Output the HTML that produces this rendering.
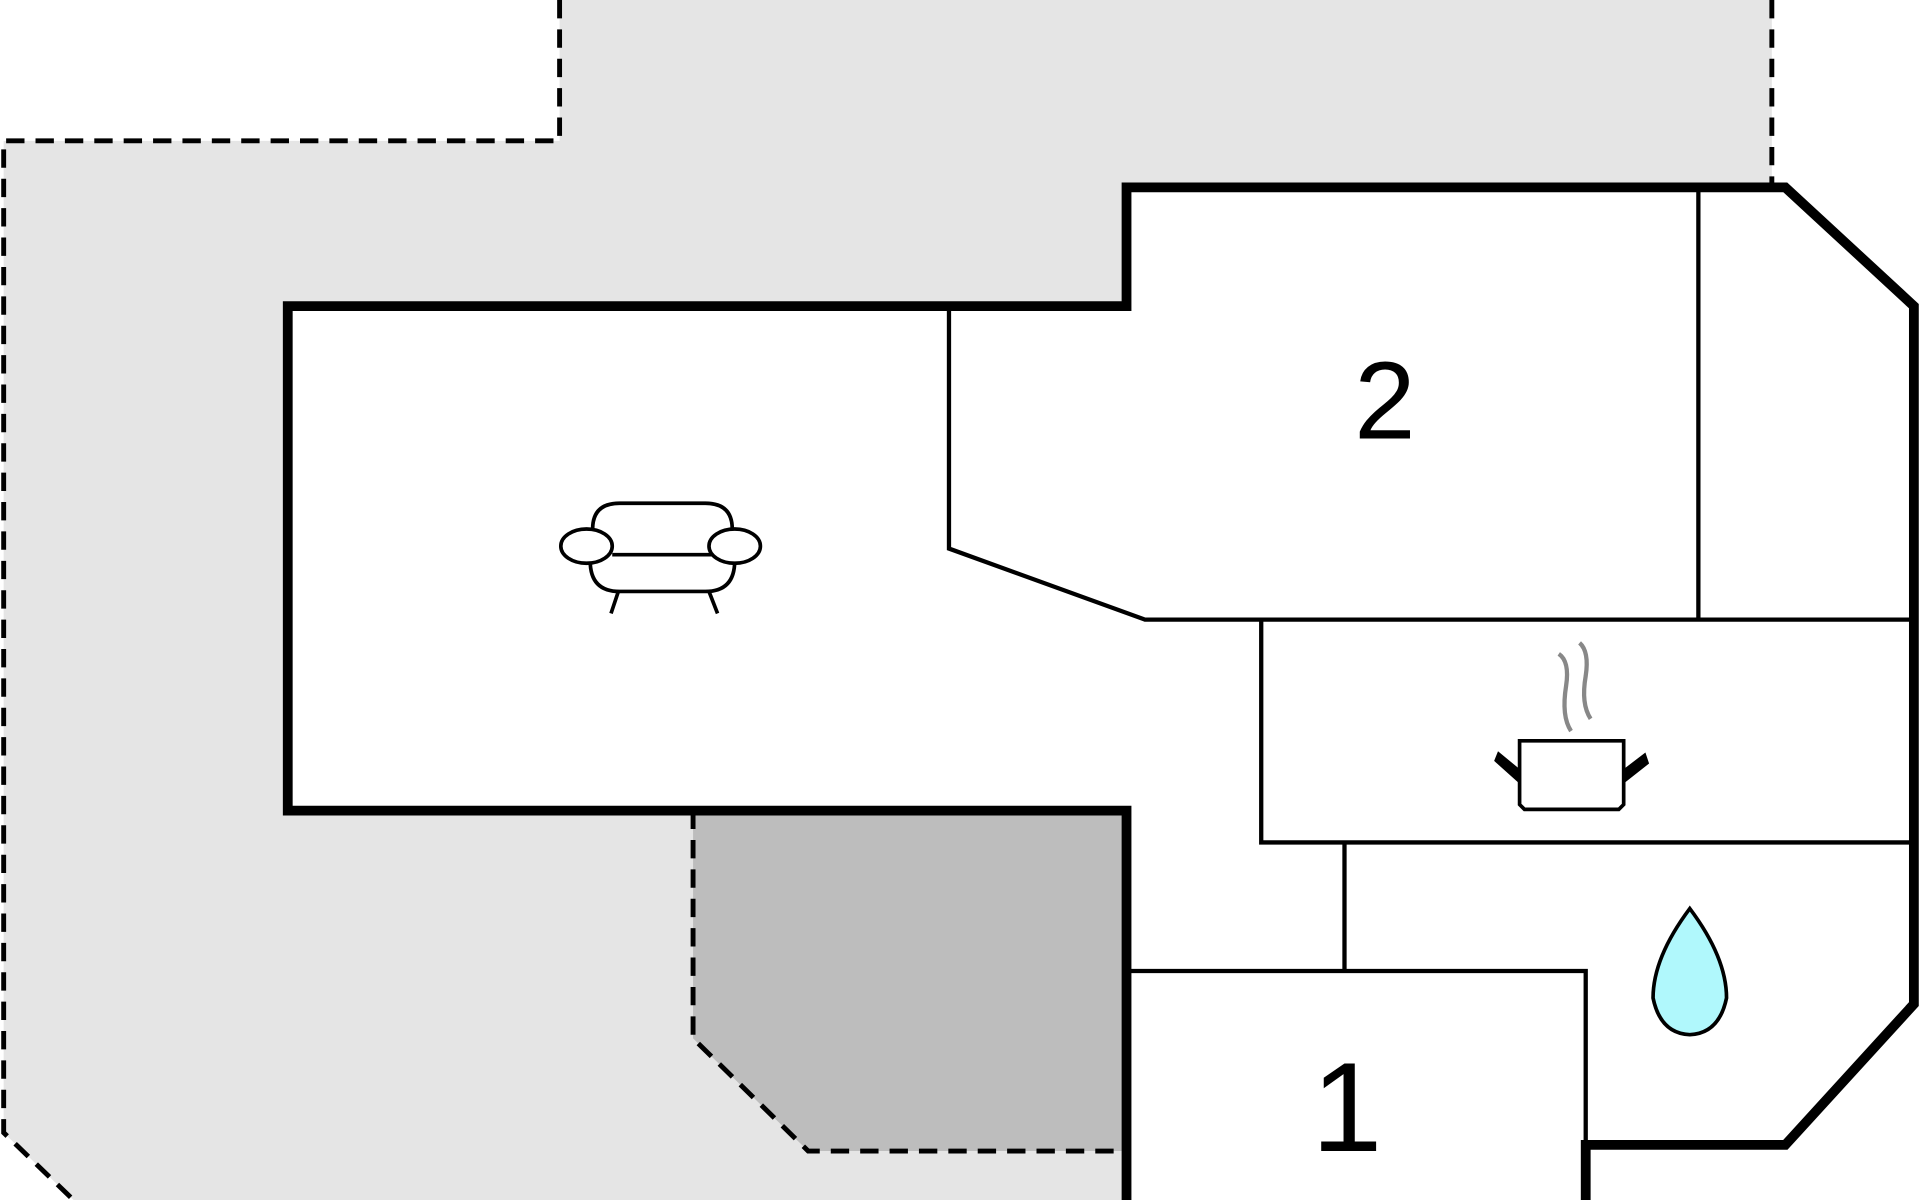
<!DOCTYPE html>
<html><head><meta charset="utf-8"><style>html,body{margin:0;padding:0;background:#fff;}svg{display:block;}</style></head>
<body>
<svg width="1920" height="1200" viewBox="0 0 1568 980" xmlns="http://www.w3.org/2000/svg">
<polygon points="3,115 457,115 457,0 1447,0 1447,153 920,153 920,980 60,980 3,925" fill="#e5e5e5"/>
<polygon points="566,662 920,662 920,940 660,940 566,848" fill="#bdbdbd"/>
<g fill="none" stroke="#000" stroke-width="4" stroke-dasharray="15,9">
<polyline points="457,0 457,115 3,115 3,925 60,980"/>
<line x1="1447" y1="0" x2="1447" y2="153"/>
<polyline points="566,662 566,848 660,940 920,940"/>
</g>
<polygon points="235,250 920,250 920,153 1458,153 1563,250 1563,820 1458,935 1295,935 1295,980 920,980 920,662 235,662" fill="#fff"/>
<g fill="none" stroke="#000" stroke-width="3.5">
<polyline points="775,250 775,448 935,506 1563,506"/>
<line x1="1387" y1="153" x2="1387" y2="506"/>
<polyline points="1030,506 1030,688 1563,688"/>
<line x1="1098" y1="688" x2="1098" y2="793"/>
<polyline points="920,793 1295,793 1295,935"/>
</g>
<g fill="none" stroke="#000" stroke-width="8">
<polyline points="920,980 920,662 235,662 235,250 920,250 920,153 1458,153 1563,250 1563,820 1458,935 1295,935 1295,980"/>
</g>
<text x="1131" y="358" font-family="Liberation Sans, sans-serif" font-size="72" text-anchor="middle" transform="translate(1131,358) scale(1.25,1.25) translate(-1131,-358)">2</text>
<text x="1100" y="940" font-family="Liberation Sans, sans-serif" font-size="104" text-anchor="middle">1</text>
<g fill="#fff" stroke="#000" stroke-width="3">
<path d="M484,432 Q484,411 506,411 L576,411 Q598,411 598,432"/>
<path d="M482,458 Q482,483 506,483 L576,483 Q600,483 600,458"/>
<line x1="500" y1="453" x2="582" y2="453"/>
<line x1="505" y1="483" x2="499" y2="501"/>
<line x1="579" y1="483" x2="586" y2="501"/>
<ellipse cx="479" cy="446" rx="21" ry="14"/>
<ellipse cx="600" cy="446" rx="21" ry="14"/>
</g>
<g fill="none" stroke="#888" stroke-width="3.5">
<path d="M1273,534 Q1282,540 1279,560 Q1275,585 1283,597"/>
<path d="M1290,525 Q1298,532 1295,552 Q1291,575 1299,587"/>
</g>
<g fill="#fff" stroke="#000" stroke-width="3">
<path d="M1241,605 L1326,605 L1326,657 L1322,661 L1245,661 L1241,657 Z"/>
<path d="M1241,638 L1222,621 L1224,616 L1241,630" fill="#000"/>
<path d="M1326,638 L1345,623 L1343,617 L1326,630" fill="#000"/>
</g>
<path d="M1380,742 Q1410,782 1410,815 Q1404,844 1380,845 Q1356,844 1350,815 Q1350,782 1380,742 Z" fill="#b0f8fc" stroke="#000" stroke-width="3"/>
</svg>
</body></html>
